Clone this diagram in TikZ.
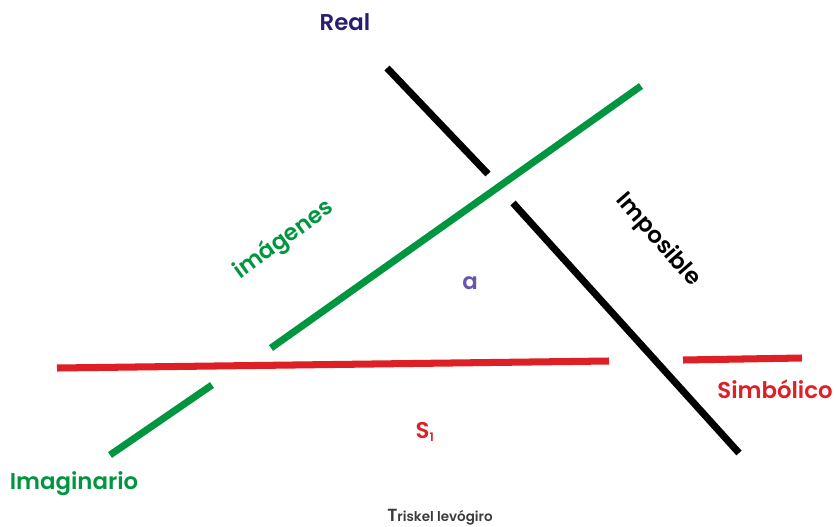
\documentclass[tikz,border=0pt]{standalone}
\usepackage{fontspec}
\setmainfont{Poppins}[BoldFont={Poppins SemiBold}]
\usepackage{xcolor}
\definecolor{trgreen}{RGB}{0,150,64}
\definecolor{trred}{RGB}{221,32,38}
\definecolor{trnavy}{RGB}{38,30,110}
\definecolor{trpurple}{RGB}{104,84,170}
\definecolor{trgray}{RGB}{60,60,60}
\usepackage{tikz}
\usetikzlibrary{positioning}

\tikzset{
  ring/.style={line width=6pt},
  lbl/.style={font=\fontsize{19.5}{19.5}\selectfont\bfseries, inner sep=0pt}
}

\begin{document}
\begin{tikzpicture}[x=0.03cm, y=-0.03cm]
  \useasboundingbox (0,0) rectangle (836,526);

  % Real (black)
  \draw[ring, black] (387,68) -- (488,174);
  \draw[ring, black] (513,203) -- (739,453);

  % Imaginario (green)
  \draw[ring, trgreen] (271,348) -- (641,86);
  \draw[ring, trgreen] (110,455) -- (212,385);

  % Simbolico (red)
  \draw[ring, trred] (57,368) -- (609,361);
  \draw[ring, trred] (683,360) -- (802,358);

  % Labels
  \node[lbl, trnavy] (real) at (345,22) {Real};
  \node[lbl, black, rotate=-49] (imposible) at (658,240) {Imposible};
  \node[lbl, trgreen, rotate=36] (imagenes) at (284,240) {imágenes};
  \node[lbl, trpurple] (a) at (470,283) {a};
  \node[lbl, trred] (s1) at (425,432) {S\textsubscript{\fontsize{10}{10}\selectfont 1}};
  \node[lbl, trred] (simbolico) at (775,389) {Simbólico};
  \node[lbl, trgreen] (imaginario) at (74,484) {Imaginario};
  \node[font=\fontsize{11.5}{11.5}\selectfont\bfseries, trgray, inner sep=0pt] (triskel) at (440,517) {{\fontsize{15}{15}\selectfont T}riskel levógiro};
\end{tikzpicture}
\end{document}
